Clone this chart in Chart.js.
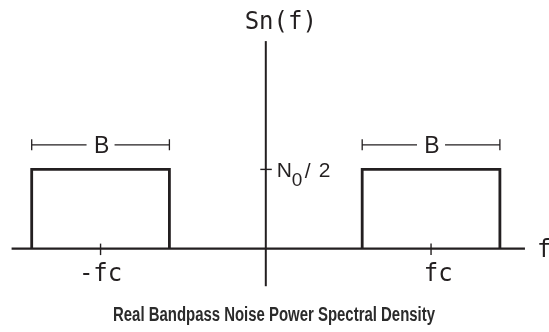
<!DOCTYPE html>
<html>
<head>
<meta charset="utf-8">
<title>Real Bandpass Noise Power Spectral Density</title>
<script src="https://cdn.jsdelivr.net/npm/chart.js@4/dist/chart.umd.min.js"></script>
<style>
  html, body { margin: 0; padding: 0; background: #ffffff; }
  #wrap { width: 549px; height: 332px; position: relative; }
</style>
</head>
<body>
<div id="wrap"><canvas id="psd" width="549" height="332"></canvas></div>
<script>
// Spectrum description (frequency in arbitrary units, fc = 6, bandwidth B = 5)
const bandCenters = [-6, 6];          // -fc and +fc
const bandwidths = [5, 5];            // B for each band
const psdLevels = [1, 1];             // N0/2 height of each band
const freqTicks = [-6, 6];
const freqTickLabels = ['-fc', 'fc'];
const levelTicks = [1];
const bandLabels = ['B', 'B'];
const yAxisTitle = 'Sn(f)';
const xAxisTitle = 'f';
const chartTitle = 'Real Bandpass Noise Power Spectral Density';

const INK = '#231f20';
const MONO = '"DejaVu Sans Mono", "Liberation Mono", monospace';
const SANS = '"Liberation Sans", Arial, sans-serif';

// Rectangular bands built from center, width and level
const bandDatasets = bandCenters.map((c, i) => {
  const lo = c - bandwidths[i] / 2;
  const hi = c + bandwidths[i] / 2;
  return {
    label: 'band ' + (i + 1),
    data: [{ x: lo, y: 0 }, { x: lo, y: psdLevels[i] }, { x: hi, y: psdLevels[i] }, { x: hi, y: 0 }],
    borderColor: INK,
    borderWidth: 2.8,
    pointRadius: 0,
    tension: 0,
    fill: false,
    borderJoinStyle: 'miter',
    borderCapStyle: 'butt'
  };
});

// Extent of the drawn axes, in data units
const axisExtent = { xFrom: -9.23, xTo: 9.41, yFrom: -0.475, yTo: 2.62 };
const bracketLevel = 1.31;

const axesPlugin = {
  id: 'psdAxes',
  beforeDatasetsDraw(chart) {
    const ctx = chart.ctx;
    const xs = chart.scales.x, ys = chart.scales.y;
    const X = v => xs.getPixelForValue(v);
    const Y = v => ys.getPixelForValue(v);
    ctx.save();
    ctx.strokeStyle = INK;
    ctx.fillStyle = INK;
    ctx.lineCap = 'butt';

    // frequency axis
    ctx.lineWidth = 2.2;
    ctx.beginPath();
    ctx.moveTo(X(axisExtent.xFrom), Y(0));
    ctx.lineTo(X(axisExtent.xTo), Y(0));
    ctx.stroke();

    // vertical axis
    ctx.lineWidth = 2;
    ctx.beginPath();
    ctx.moveTo(X(0), Y(axisExtent.yTo));
    ctx.lineTo(X(0), Y(axisExtent.yFrom));
    ctx.stroke();

    // frequency ticks and labels
    ctx.lineWidth = 1.4;
    ctx.font = '24px ' + MONO;
    ctx.textAlign = 'right';
    ctx.textBaseline = 'alphabetic';
    const charW = ctx.measureText('0').width;
    freqTicks.forEach((f, i) => {
      const px = X(f);
      ctx.beginPath();
      ctx.moveTo(px, Y(0) - 5);
      ctx.lineTo(px, Y(0) + 6.5);
      ctx.stroke();
      ctx.fillText(freqTickLabels[i], px + 1.5 * charW, Y(0) + 32);
    });

    // level tick on the vertical axis, labelled N0/2
    levelTicks.forEach(v => {
      ctx.beginPath();
      ctx.moveTo(X(0) - 5.5, Y(v));
      ctx.lineTo(X(0) + 6, Y(v));
      ctx.stroke();
      const lx = X(0) + 11, ly = Y(v) + 8;
      ctx.textAlign = 'left';
      ctx.font = '21px ' + SANS;
      ctx.fillText('N', lx, ly);
      ctx.font = '19px ' + SANS;
      ctx.fillText('0', lx + 15, ly + 8.5);
      ctx.font = '21px ' + SANS;
      ctx.fillText('/', lx + 28, ly + 1);
      ctx.fillText('2', lx + 42, ly);
    });

    // axis titles
    ctx.font = '24px ' + MONO;
    ctx.textAlign = 'center';
    ctx.fillText(yAxisTitle, X(0) + 15, 28.5);
    ctx.textAlign = 'left';
    ctx.fillText(xAxisTitle, 537, Y(0) + 8);

    // bandwidth brackets
    ctx.lineWidth = 1.3;
    ctx.font = '23px ' + SANS;
    ctx.textAlign = 'center';
    bandCenters.forEach((c, i) => {
      const lo = X(c - bandwidths[i] / 2), hi = X(c + bandwidths[i] / 2);
      const mid = X(c), by = Y(bracketLevel);
      ctx.beginPath();
      ctx.moveTo(lo, by); ctx.lineTo(mid - 14, by);
      ctx.moveTo(mid + 14, by); ctx.lineTo(hi, by);
      ctx.moveTo(lo, by - 5.5); ctx.lineTo(lo, by + 5.5);
      ctx.moveTo(hi, by - 5.5); ctx.lineTo(hi, by + 5.5);
      ctx.stroke();
      ctx.fillText(bandLabels[i], mid + 1, by + 8);
    });
    ctx.restore();
  },
  afterDraw(chart) {
    const ctx = chart.ctx;
    ctx.save();
    ctx.fillStyle = '#2b2b2b';
    ctx.font = 'bold 20px "Liberation Sans Narrow", "Liberation Sans", Arial, sans-serif';
    ctx.textAlign = 'left';
    ctx.textBaseline = 'alphabetic';
    const w = ctx.measureText(chartTitle).width;
    const target = 322;
    ctx.translate(113, 320.5);
    ctx.scale(target / w, 1);
    ctx.fillText(chartTitle, 0, 0);
    ctx.restore();
  }
};

new Chart(document.getElementById('psd'), {
  type: 'line',
  data: { datasets: bandDatasets },
  options: {
    responsive: false,
    animation: false,
    events: [],
    layout: { padding: 0 },
    plugins: { legend: { display: false }, tooltip: { enabled: false }, title: { display: false } },
    scales: {
      x: { type: 'linear', display: false, min: -9.651, max: 10.283 },
      y: { type: 'linear', display: false, min: -1.053, max: 3.139 }
    }
  },
  plugins: [axesPlugin]
});
</script>
</body>
</html>
